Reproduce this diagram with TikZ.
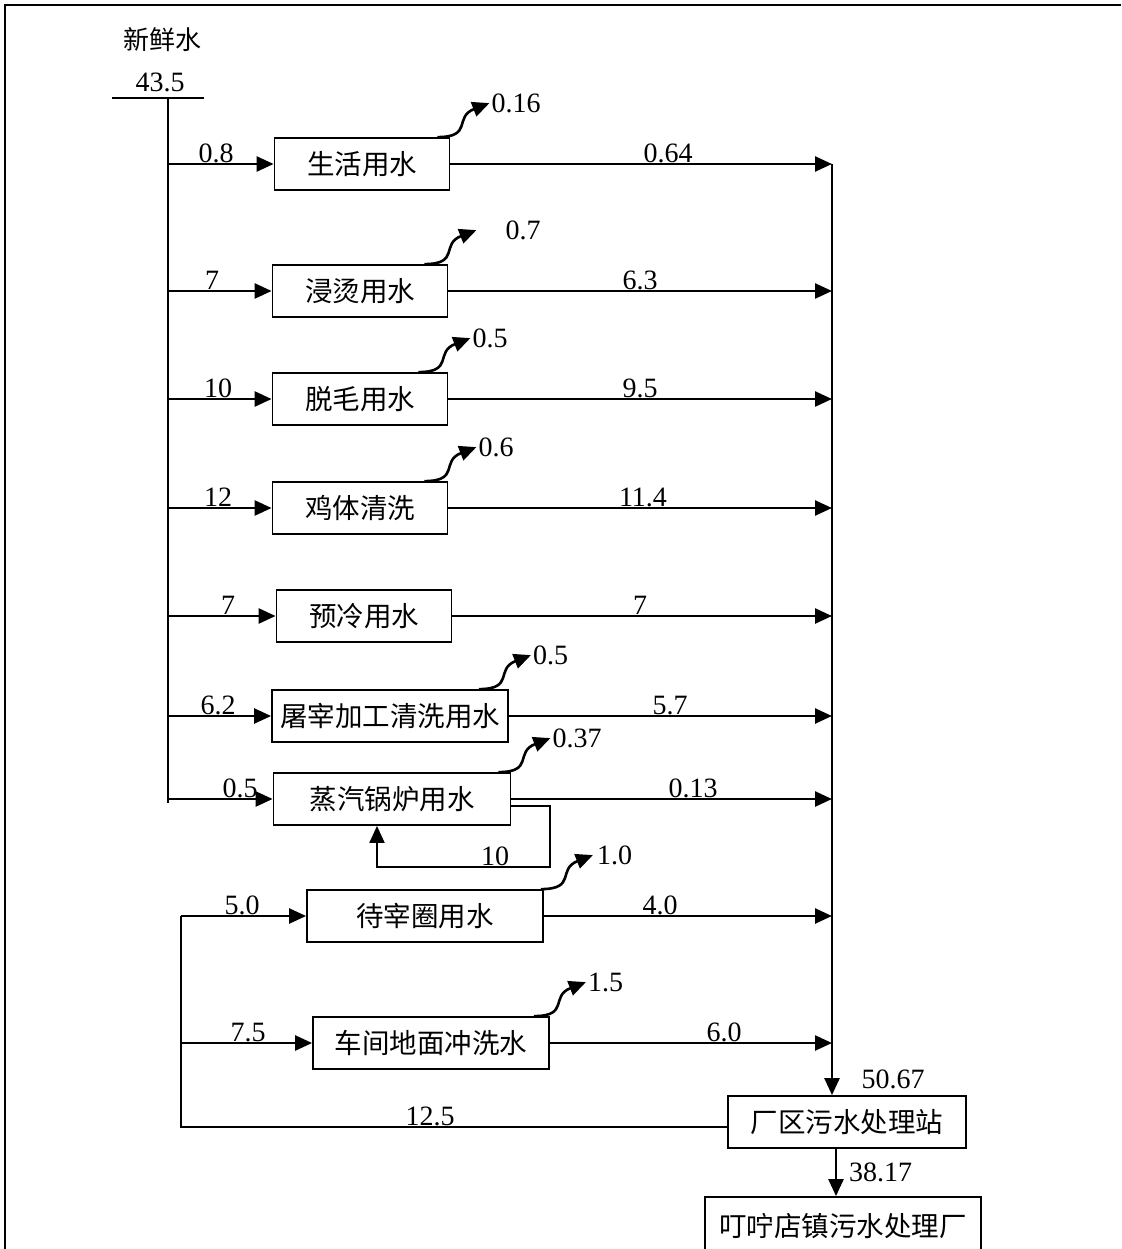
\documentclass[tikz,border=0pt]{standalone}
\usepackage{fontspec}
\setmainfont{Liberation Serif}
\newfontfamily\cjk{Noto Sans CJK SC}
\usetikzlibrary{arrows.meta}

\begin{document}
\begin{tikzpicture}[
	x=1pt, y=-1pt,
	box/.style={ draw, line width=1.8pt, inner sep=0pt, minimum height=52pt, font=\cjk\fontsize{27.5}{30}\selectfont },
	num/.style={ inner sep=1pt, font=\fontsize{28}{30}\selectfont },
	flow/.style={ line width=2.5pt, -{Triangle[length=17pt,width=15pt]} },
	loss/.style={ line width=2.6pt, -{Triangle[length=17pt,width=15pt]} },
]

\useasboundingbox (0,0) rectangle (1121,1249);
\clip (0,0) rectangle (1121,1249);
\draw[line width=2.4pt] (5,1249) -- (5,5) -- (1121,5);

% fresh water
\node at (162,40) (src) [num, font=\cjk\fontsize{26}{28}\selectfont] {新鲜水};
\node at (160,82) (srcq) [num] {43.5};
\coordinate (trunk) at (168,98);
\draw[line width=1.8pt] (112,98) -- (204,98);

% process units
\node at (362,164) (b1) [box, minimum width=175pt] {生活用水};
\node at (360,291) (b2) [box, minimum width=175pt] {浸烫用水};
\node at (360,399) (b3) [box, minimum width=175pt] {脱毛用水};
\node at (360,508) (b4) [box, minimum width=175pt] {鸡体清洗};
\node at (364,616) (b5) [box, minimum width=175pt] {预冷用水};
\node at (390,716) (b6) [box, minimum width=236pt] {屠宰加工清洗用水};
\node at (392,799) (b7) [box, minimum width=237pt] {蒸汽锅炉用水};
\node at (425,916) (b8) [box, minimum width=236pt] {待宰圈用水};
\node at (431,1043) (b9) [box, minimum width=236pt] {车间地面冲洗水};
\node at (847,1122) (stn) [box, minimum width=238pt] {厂区污水处理站};
\node at (843,1226) (plant) [box, minimum width=276pt, minimum height=58pt] {叮咛店镇污水处理厂};

\coordinate (col) at (832,164);
\coordinate (ret) at (181,1127);
\coordinate (loop) at (550,867);

\draw[line width=2.2pt] (trunk) -- ([yshift=-4pt]b7.west -| trunk);
\draw[line width=1.8pt] ([yshift=-5pt]stn.west) -- (ret) -- (b8.west -| ret);

% supply and drain
\foreach \blk/\tr/\qin/\dxi/\qout/\dxo in {b1/trunk/0.8/48/0.64/-164, b2/trunk/7/44/6.3/-192, b3/trunk/10/50/9.5/-192, b4/trunk/12/50/11.4/-189, b5/trunk/7/60/7/-192, b6/trunk/6.2/50/5.7/-162, b7/trunk/0.5/72/0.13/-139, b8/ret/5.0/61/4.0/-172, b9/ret/7.5/67/6.0/-108} {
	\draw[flow] (\blk.west -| \tr) -- (\blk.west);
	\draw[flow] (\blk.east) -- (\blk.east -| col);
	\path (\blk.west -| \tr) ++(\dxi,0) node[num, above] (in-\blk) {\qin};
	\path (\blk.east -| col) ++(\dxo,0) node[num, above] (out-\blk) {\qout};
}

% losses
\foreach \blk/\dx/\q/\gap in {b1/-13/0.16/0, b2/-24/0.7/27, b3/-30/0.5/0, b4/-24/0.6/0, b6/-30/0.5/0, b7/-13/0.37/0, b8/-3/1.0/2, b9/-16/1.5/0} {
	\draw[loss] ([xshift=\dx pt]\blk.north east) .. controls +(36,0) and +(-36,14) .. ++(52,-34) node[num, right, xshift=\gap pt] (w-\blk) {\q};
}

% boiler loop
\draw[flow, line width=2pt] ([yshift=-7pt]b7.east) -| (loop) -| ([xshift=-15pt]b7.south);
\node at (495,867) (l-loop) [num, above] {10};

\draw[flow] (col) -- (stn.north -| col);
\node at (893,1079) (l-in) [num] {50.67};
\node at (430,1127) (l-ret) [num, above] {12.5};
\draw[flow] ([xshift=-11pt]stn.south) -- ([xshift=-11pt]stn.south |- plant.north);
\node at (848,1172) (l-out) [num, right] {38.17};

\end{tikzpicture}
\end{document}
